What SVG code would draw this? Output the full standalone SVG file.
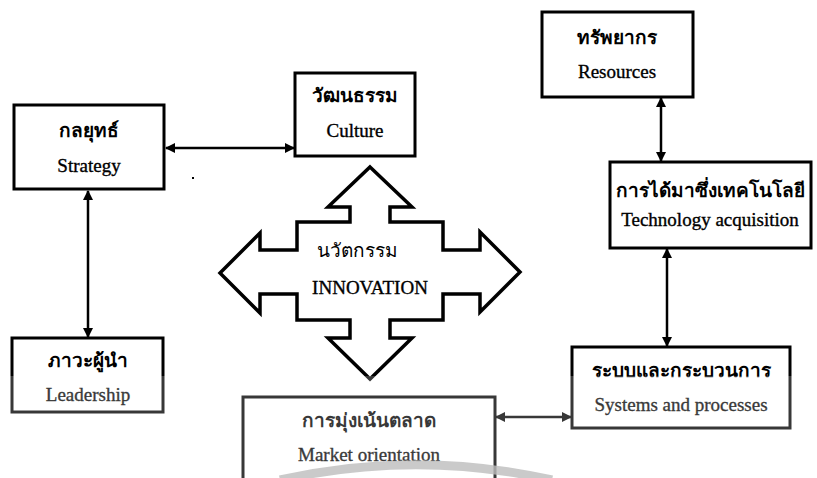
<svg xmlns="http://www.w3.org/2000/svg" width="817" height="478" viewBox="0 0 817 478">
  <defs>
    <style>
      .box { fill: #fff; stroke: #000; stroke-width: 3; }
      .th { font-family: "Liberation Serif", "Noto Sans", serif; font-size: 19px; font-weight: bold; fill: #000; text-anchor: middle; }
      .en { font-family: "Liberation Serif", serif; font-size: 19px; fill: #000; stroke: #000; stroke-width: 0.35; text-anchor: middle; }
      .link { stroke: #000; stroke-width: 2.5; fill: none; marker-start: url(#head); marker-end: url(#head); }
      .cross { fill: #fff; stroke: #000; stroke-width: 3.5; stroke-linejoin: miter; }
    </style>
    <marker id="head" viewBox="0 0 10 10" refX="9" refY="5" markerWidth="4" markerHeight="4" orient="auto-start-reverse" markerUnits="strokeWidth">
      <path d="M0,0 L10,5 L0,10 Z" fill="#000"/>
    </marker>
  </defs>

  <rect width="817" height="478" fill="#fff"/>

  <!-- connectors -->
  <g id="connectors">
    <line class="link" x1="166" y1="148" x2="294" y2="148"/>
    <line class="link" x1="88" y1="191" x2="88" y2="337"/>
    <line class="link" x1="661" y1="98" x2="661" y2="161"/>
    <line class="link" x1="667" y1="249" x2="667" y2="346"/>
    <line class="link" x1="496" y1="417" x2="571" y2="417"/>
  </g>

  <g id="strategy">
    <rect class="box" x="14" y="105" width="150" height="84"/>
    <text class="th" x="89" y="137">กลยุทธ์</text>
    <text class="en" x="89" y="172">Strategy</text>
  </g>

  <g id="culture">
    <rect class="box" x="295" y="73" width="120" height="83"/>
    <text class="th" x="355" y="102">วัฒนธรรม</text>
    <text class="en" x="355" y="137">Culture</text>
  </g>

  <g id="resources">
    <rect class="box" x="542" y="12" width="151" height="85"/>
    <text class="th" x="617" y="44">ทรัพยากร</text>
    <text class="en" x="617" y="78">Resources</text>
  </g>

  <g id="technology">
    <rect class="box" x="610" y="162" width="201" height="86"/>
    <text class="th" x="710" y="197">การได้มาซึ่งเทคโนโลยี</text>
    <text class="en" x="710" y="226">Technology acquisition</text>
  </g>

  <g id="leadership">
    <rect class="box" x="12" y="338" width="151" height="74"/>
    <text class="th" x="88" y="367">ภาวะผู้นำ</text>
    <text class="en" x="88" y="401">Leadership</text>
  </g>

  <g id="systems">
    <rect class="box" x="572" y="347" width="218" height="81"/>
    <text class="th" x="681" y="377">ระบบและกระบวนการ</text>
    <text class="en" x="681" y="411">Systems and processes</text>
  </g>

  <g id="market">
    <rect class="box" x="243" y="397" width="252" height="100"/>
    <text class="th" x="369" y="427">การมุ่งเน้นตลาด</text>
    <text class="en" x="369" y="461">Market orientation</text>
  </g>

  <!-- four-way arrow in the centre -->
  <g id="innovation">
    <path class="cross" d="M370,167 L412,207 L390,207 L390,222 L443,222 L443,250 L480,250 L480,232 L520,272 L480,312 L480,294 L443,294 L443,320 L390,320 L390,338 L412,338 L370,379 L328,338 L350,338 L350,320 L297,320 L297,294 L260,294 L260,313 L220,273 L260,233 L260,250 L297,250 L297,222 L350,222 L350,207 L328,207 Z"/>
    <text class="th" x="357" y="257" style="font-weight:normal">นวัตกรรม</text>
    <text class="en" x="370" y="294">INNOVATION</text>
  </g>

  <!-- small speck -->
  <rect x="192" y="177" width="2" height="2" fill="#000"/>

  <!-- faded lower band and watermark ring -->
  <rect x="0" y="376" width="817" height="102" fill="#fff" opacity="0.22"/>
  <path d="M280,480 A620,620 0 0 1 552,480" fill="none" stroke="#bdbdbd" stroke-width="9" opacity="0.8"/>
</svg>
